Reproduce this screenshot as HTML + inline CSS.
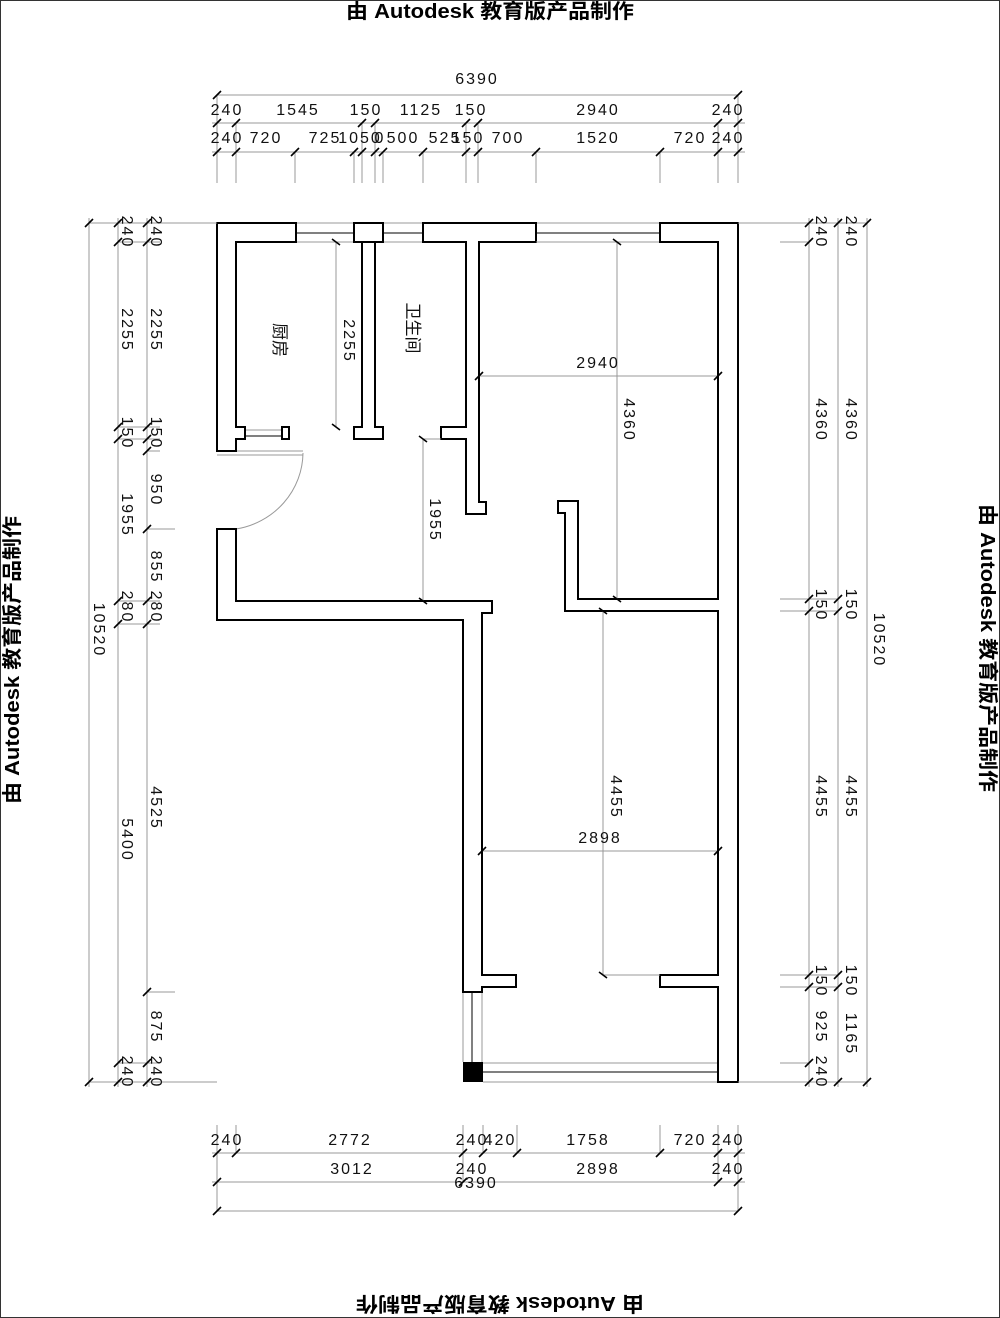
<!DOCTYPE html>
<html><head><meta charset="utf-8"><style>
html,body{margin:0;padding:0;background:#fff}
svg{display:block}
.w{fill:none;stroke:#000;stroke-width:2}
.g{stroke:#999;stroke-width:1;fill:none}
.k{stroke:#000;stroke-width:1;fill:none}
.t{stroke:#000;stroke-width:1.6}
text.d{font-family:"Liberation Sans Narrow","Liberation Sans",sans-serif;font-size:16px;letter-spacing:2px;fill:#111;text-anchor:middle}
text.wm{font-family:"Liberation Sans","Noto Sans CJK SC",sans-serif;font-weight:bold;font-size:20px;fill:#000;text-anchor:middle}
text.r{font-family:"Liberation Sans","Noto Sans CJK SC",sans-serif;font-size:17px;fill:#111;text-anchor:middle}
</style></head><body>
<svg width="1000" height="1318" viewBox="0 0 1000 1318" xmlns="http://www.w3.org/2000/svg">
<rect x="0.5" y="0.5" width="999" height="1317" fill="#fff" stroke="#333" stroke-width="1"/>
<text class="wm" x="490" y="18" textLength="288" lengthAdjust="spacingAndGlyphs">由 Autodesk 教育版产品制作</text>
<text class="wm" transform="rotate(180 500 1304)" x="500" y="1311" textLength="288" lengthAdjust="spacingAndGlyphs">由 Autodesk 教育版产品制作</text>
<text class="wm" transform="rotate(-90 12 660)" x="12" y="667" textLength="288" lengthAdjust="spacingAndGlyphs">由 Autodesk 教育版产品制作</text>
<text class="wm" transform="rotate(90 988 648)" x="988" y="655" textLength="288" lengthAdjust="spacingAndGlyphs">由 Autodesk 教育版产品制作</text>

<g class="g">
<line x1="296" y1="223" x2="354" y2="223"/><line x1="296" y1="242" x2="354" y2="242"/>
<line x1="383" y1="223" x2="423" y2="223"/><line x1="383" y1="242" x2="423" y2="242"/>
<line x1="536" y1="223" x2="660" y2="223"/><line x1="536" y1="242" x2="660" y2="242"/>
<line x1="463" y1="992" x2="463" y2="1062"/><line x1="482" y1="992" x2="482" y2="1062"/>
<line x1="483" y1="1063" x2="718" y2="1063"/><line x1="483" y1="1082" x2="718" y2="1082"/>
<line x1="245" y1="430" x2="282" y2="430"/>
<line x1="217" y1="451" x2="303" y2="451"/><line x1="217" y1="455" x2="303" y2="455"/>
<path d="M303 453 A80 78 0 0 1 236 529"/>
</g>
<g class="k">
<line x1="296" y1="233" x2="354" y2="233"/><line x1="383" y1="233" x2="423" y2="233"/><line x1="536" y1="233" x2="660" y2="233"/>
<line x1="472" y1="992" x2="472" y2="1062"/>
<line x1="483" y1="1072" x2="718" y2="1072"/>
<line x1="245" y1="436" x2="282" y2="436"/>
</g>

<g class="w">
<polygon points="217,223 296,223 296,242 236,242 236,427 245,427 245,439 236,439 236,451 217,451"/>
<rect x="282" y="427" width="7" height="12"/>
<polygon points="217,529 236,529 236,601 492,601 492,613 482,613 482,975 516,975 516,987 482,987 482,992 463,992 463,620 217,620"/>
<rect x="354" y="223" width="29" height="19"/>
<polygon points="362,242 362,427 354,427 354,439 383,439 383,427 375,427 375,242"/>
<polygon points="423,223 536,223 536,242 479,242 479,502 486,502 486,514 466,514 466,439 441,439 441,427 466,427 466,242 423,242"/>
<polygon points="660,223 738,223 738,1082 718,1082 718,987 660,987 660,975 718,975 718,611 565,611 565,513 558,513 558,501 578,501 578,599 718,599 718,242 660,242"/>
</g>
<rect x="463" y="1062" width="20" height="20" fill="#000"/>

<g class="g">
<line x1="336" y1="242" x2="336" y2="427"/>
<line x1="617" y1="242" x2="617" y2="599"/>
<line x1="479" y1="376" x2="718" y2="376"/>
<line x1="423" y1="439" x2="423" y2="601"/>
<line x1="441" y1="439" x2="423" y2="439"/>
<line x1="603" y1="611" x2="603" y2="975"/>
<line x1="603" y1="975" x2="660" y2="975"/>
<line x1="482" y1="851" x2="718" y2="851"/>
<line x1="536" y1="242" x2="648" y2="242"/>
</g>
<g class="t">
<line x1="332" y1="239" x2="340" y2="245"/><line x1="332" y1="424" x2="340" y2="430"/>
<line x1="613" y1="239" x2="621" y2="245"/><line x1="613" y1="596" x2="621" y2="602"/>
<line x1="475" y1="380" x2="483" y2="372"/><line x1="714" y1="380" x2="722" y2="372"/>
<line x1="419" y1="436" x2="427" y2="442"/><line x1="419" y1="598" x2="427" y2="604"/>
<line x1="599" y1="608" x2="607" y2="614"/><line x1="599" y1="972" x2="607" y2="978"/>
<line x1="478" y1="855" x2="486" y2="847"/><line x1="714" y1="855" x2="722" y2="847"/>
</g>
<text class="d" transform="rotate(90 350 341)" x="350" y="347">2255</text>
<text class="d" transform="rotate(90 630 420)" x="630" y="426">4360</text>
<text class="d" x="598" y="368">2940</text>
<text class="d" transform="rotate(90 436 520)" x="436" y="526">1955</text>
<text class="d" transform="rotate(90 617 797)" x="617" y="803">4455</text>
<text class="d" x="600" y="843">2898</text>
<text class="r" transform="rotate(90 280 340)" x="280" y="346">厨房</text>
<text class="r" transform="rotate(90 413 328)" x="413" y="334">卫生间</text>

<g class="g">
<line x1="217" y1="95" x2="738" y2="95"/>
<line x1="212" y1="123" x2="745" y2="123"/>
<line x1="212" y1="152" x2="745" y2="152"/>
<line x1="217" y1="95" x2="217" y2="183"/><line x1="738" y1="95" x2="738" y2="183"/>
<line x1="236" y1="123" x2="236" y2="183"/><line x1="295" y1="152" x2="295" y2="183"/>
<line x1="354" y1="152" x2="354" y2="183"/><line x1="362" y1="123" x2="362" y2="183"/>
<line x1="375" y1="123" x2="375" y2="183"/><line x1="383" y1="152" x2="383" y2="183"/>
<line x1="423" y1="152" x2="423" y2="183"/><line x1="466" y1="123" x2="466" y2="183"/>
<line x1="478" y1="123" x2="478" y2="183"/><line x1="536" y1="152" x2="536" y2="183"/>
<line x1="660" y1="152" x2="660" y2="183"/><line x1="718" y1="123" x2="718" y2="183"/>
</g>
<g class="t">
<line x1="213" y1="99" x2="221" y2="91"/><line x1="734" y1="99" x2="742" y2="91"/>
<line x1="213" y1="127" x2="221" y2="119"/><line x1="232" y1="127" x2="240" y2="119"/>
<line x1="358" y1="127" x2="366" y2="119"/><line x1="371" y1="127" x2="379" y2="119"/>
<line x1="462" y1="127" x2="470" y2="119"/><line x1="474" y1="127" x2="482" y2="119"/>
<line x1="714" y1="127" x2="722" y2="119"/><line x1="734" y1="127" x2="742" y2="119"/>
<line x1="213" y1="156" x2="221" y2="148"/><line x1="232" y1="156" x2="240" y2="148"/>
<line x1="291" y1="156" x2="299" y2="148"/><line x1="350" y1="156" x2="358" y2="148"/>
<line x1="358" y1="156" x2="366" y2="148"/><line x1="371" y1="156" x2="379" y2="148"/>
<line x1="379" y1="156" x2="387" y2="148"/><line x1="419" y1="156" x2="427" y2="148"/>
<line x1="462" y1="156" x2="470" y2="148"/><line x1="474" y1="156" x2="482" y2="148"/>
<line x1="532" y1="156" x2="540" y2="148"/><line x1="656" y1="156" x2="664" y2="148"/>
<line x1="714" y1="156" x2="722" y2="148"/><line x1="734" y1="156" x2="742" y2="148"/>
</g>
<text class="d" x="477" y="84">6390</text>
<text class="d" x="227" y="115">240</text><text class="d" x="298" y="115">1545</text>
<text class="d" x="366" y="115">150</text><text class="d" x="421" y="115">1125</text>
<text class="d" x="471" y="115">150</text><text class="d" x="598" y="115">2940</text>
<text class="d" x="728" y="115">240</text>
<text class="d" x="227" y="143">240</text><text class="d" x="266" y="143">720</text>
<text class="d" x="325" y="143">725</text><text class="d" x="360" y="143">1050</text>
<text class="d" x="380" y="143">0</text><text class="d" x="403" y="143">500</text>
<text class="d" x="445" y="143">525</text><text class="d" x="468" y="143">150</text>
<text class="d" x="508" y="143">700</text><text class="d" x="598" y="143">1520</text>
<text class="d" x="690" y="143">720</text><text class="d" x="728" y="143">240</text>

<g class="g">
<line x1="212" y1="1153" x2="745" y2="1153"/>
<line x1="212" y1="1182" x2="745" y2="1182"/>
<line x1="217" y1="1211" x2="738" y2="1211"/>
<line x1="217" y1="1125" x2="217" y2="1211"/><line x1="738" y1="1125" x2="738" y2="1211"/>
<line x1="236" y1="1125" x2="236" y2="1153"/><line x1="463" y1="1125" x2="463" y2="1182"/>
<line x1="483" y1="1125" x2="483" y2="1153"/><line x1="517" y1="1125" x2="517" y2="1153"/>
<line x1="660" y1="1125" x2="660" y2="1153"/><line x1="718" y1="1125" x2="718" y2="1182"/>
</g>
<g class="t">
<line x1="213" y1="1157" x2="221" y2="1149"/><line x1="232" y1="1157" x2="240" y2="1149"/>
<line x1="459" y1="1157" x2="467" y2="1149"/><line x1="479" y1="1157" x2="487" y2="1149"/>
<line x1="513" y1="1157" x2="521" y2="1149"/><line x1="656" y1="1157" x2="664" y2="1149"/>
<line x1="714" y1="1157" x2="722" y2="1149"/><line x1="734" y1="1157" x2="742" y2="1149"/>
<line x1="213" y1="1186" x2="221" y2="1178"/><line x1="459" y1="1186" x2="467" y2="1178"/>
<line x1="714" y1="1186" x2="722" y2="1178"/><line x1="734" y1="1186" x2="742" y2="1178"/>
<line x1="213" y1="1215" x2="221" y2="1207"/><line x1="734" y1="1215" x2="742" y2="1207"/>
</g>
<text class="d" x="227" y="1145">240</text><text class="d" x="350" y="1145">2772</text>
<text class="d" x="472" y="1145">240</text><text class="d" x="500" y="1145">420</text>
<text class="d" x="588" y="1145">1758</text><text class="d" x="690" y="1145">720</text>
<text class="d" x="728" y="1145">240</text>
<text class="d" x="352" y="1174">3012</text><text class="d" x="472" y="1174">240</text>
<text class="d" x="598" y="1174">2898</text><text class="d" x="728" y="1174">240</text>
<text class="d" x="476" y="1188">6390</text>

<g class="g">
<line x1="89" y1="218" x2="89" y2="1087"/>
<line x1="118" y1="218" x2="118" y2="1087"/>
<line x1="147" y1="218" x2="147" y2="1087"/>
<line x1="89" y1="223" x2="217" y2="223"/><line x1="89" y1="1082" x2="217" y2="1082"/>
<line x1="118" y1="242" x2="160" y2="242"/><line x1="118" y1="1063" x2="160" y2="1063"/>
<line x1="118" y1="427" x2="160" y2="427"/><line x1="118" y1="439" x2="160" y2="439"/>
<line x1="147" y1="451" x2="160" y2="451"/><line x1="147" y1="529" x2="175" y2="529"/>
<line x1="118" y1="601" x2="160" y2="601"/><line x1="118" y1="624" x2="160" y2="624"/>
<line x1="147" y1="992" x2="175" y2="992"/>
</g>
<g class="t">
<line x1="85" y1="227" x2="93" y2="219"/><line x1="85" y1="1086" x2="93" y2="1078"/>
<line x1="114" y1="227" x2="122" y2="219"/><line x1="114" y1="246" x2="122" y2="238"/>
<line x1="114" y1="431" x2="122" y2="423"/><line x1="114" y1="443" x2="122" y2="435"/>
<line x1="114" y1="605" x2="122" y2="597"/><line x1="114" y1="628" x2="122" y2="620"/>
<line x1="114" y1="1067" x2="122" y2="1059"/><line x1="114" y1="1086" x2="122" y2="1078"/>
<line x1="143" y1="227" x2="151" y2="219"/><line x1="143" y1="246" x2="151" y2="238"/>
<line x1="143" y1="431" x2="151" y2="423"/><line x1="143" y1="443" x2="151" y2="435"/>
<line x1="143" y1="455" x2="151" y2="447"/><line x1="143" y1="533" x2="151" y2="525"/>
<line x1="143" y1="605" x2="151" y2="597"/><line x1="143" y1="628" x2="151" y2="620"/>
<line x1="143" y1="996" x2="151" y2="988"/>
<line x1="143" y1="1067" x2="151" y2="1059"/><line x1="143" y1="1086" x2="151" y2="1078"/>
</g>
<g>
<text class="d" transform="rotate(90 100 630)" x="100" y="636">10520</text>
<text class="d" transform="rotate(90 128 232)" x="128" y="238">240</text>
<text class="d" transform="rotate(90 128 330)" x="128" y="336">2255</text>
<text class="d" transform="rotate(90 128 433)" x="128" y="439">150</text>
<text class="d" transform="rotate(90 128 515)" x="128" y="521">1955</text>
<text class="d" transform="rotate(90 128 607)" x="128" y="613">280</text>
<text class="d" transform="rotate(90 128 840)" x="128" y="846">5400</text>
<text class="d" transform="rotate(90 128 1072)" x="128" y="1078">240</text>
<text class="d" transform="rotate(90 157 232)" x="157" y="238">240</text>
<text class="d" transform="rotate(90 157 330)" x="157" y="336">2255</text>
<text class="d" transform="rotate(90 157 433)" x="157" y="439">150</text>
<text class="d" transform="rotate(90 157 490)" x="157" y="496">950</text>
<text class="d" transform="rotate(90 157 567)" x="157" y="573">855</text>
<text class="d" transform="rotate(90 157 607)" x="157" y="613">280</text>
<text class="d" transform="rotate(90 157 808)" x="157" y="814">4525</text>
<text class="d" transform="rotate(90 157 1027)" x="157" y="1033">875</text>
<text class="d" transform="rotate(90 157 1072)" x="157" y="1078">240</text>
</g>

<g class="g">
<line x1="809" y1="218" x2="809" y2="1087"/>
<line x1="838" y1="218" x2="838" y2="1087"/>
<line x1="867" y1="218" x2="867" y2="1087"/>
<line x1="738" y1="223" x2="867" y2="223"/><line x1="738" y1="1082" x2="867" y2="1082"/>
<line x1="780" y1="242" x2="809" y2="242"/><line x1="780" y1="1063" x2="809" y2="1063"/>
<line x1="780" y1="599" x2="838" y2="599"/><line x1="780" y1="611" x2="838" y2="611"/>
<line x1="780" y1="975" x2="838" y2="975"/><line x1="780" y1="987" x2="838" y2="987"/>
</g>
<g class="t">
<line x1="805" y1="227" x2="813" y2="219"/><line x1="805" y1="246" x2="813" y2="238"/>
<line x1="805" y1="603" x2="813" y2="595"/><line x1="805" y1="615" x2="813" y2="607"/>
<line x1="805" y1="979" x2="813" y2="971"/><line x1="805" y1="991" x2="813" y2="983"/>
<line x1="805" y1="1067" x2="813" y2="1059"/><line x1="805" y1="1086" x2="813" y2="1078"/>
<line x1="834" y1="227" x2="842" y2="219"/>
<line x1="834" y1="603" x2="842" y2="595"/><line x1="834" y1="615" x2="842" y2="607"/>
<line x1="834" y1="979" x2="842" y2="971"/><line x1="834" y1="991" x2="842" y2="983"/>
<line x1="834" y1="1086" x2="842" y2="1078"/>
<line x1="863" y1="227" x2="871" y2="219"/><line x1="863" y1="1086" x2="871" y2="1078"/>
</g>
<g>
<text class="d" transform="rotate(90 880 640)" x="880" y="646">10520</text>
<text class="d" transform="rotate(90 822 232)" x="822" y="238">240</text>
<text class="d" transform="rotate(90 822 420)" x="822" y="426">4360</text>
<text class="d" transform="rotate(90 822 605)" x="822" y="611">150</text>
<text class="d" transform="rotate(90 822 797)" x="822" y="803">4455</text>
<text class="d" transform="rotate(90 822 981)" x="822" y="987">150</text>
<text class="d" transform="rotate(90 822 1027)" x="822" y="1033">925</text>
<text class="d" transform="rotate(90 822 1072)" x="822" y="1078">240</text>
<text class="d" transform="rotate(90 852 232)" x="852" y="238">240</text>
<text class="d" transform="rotate(90 852 420)" x="852" y="426">4360</text>
<text class="d" transform="rotate(90 852 605)" x="852" y="611">150</text>
<text class="d" transform="rotate(90 852 797)" x="852" y="803">4455</text>
<text class="d" transform="rotate(90 852 981)" x="852" y="987">150</text>
<text class="d" transform="rotate(90 852 1034)" x="852" y="1040">1165</text>
</g>
</svg>
</body></html>
